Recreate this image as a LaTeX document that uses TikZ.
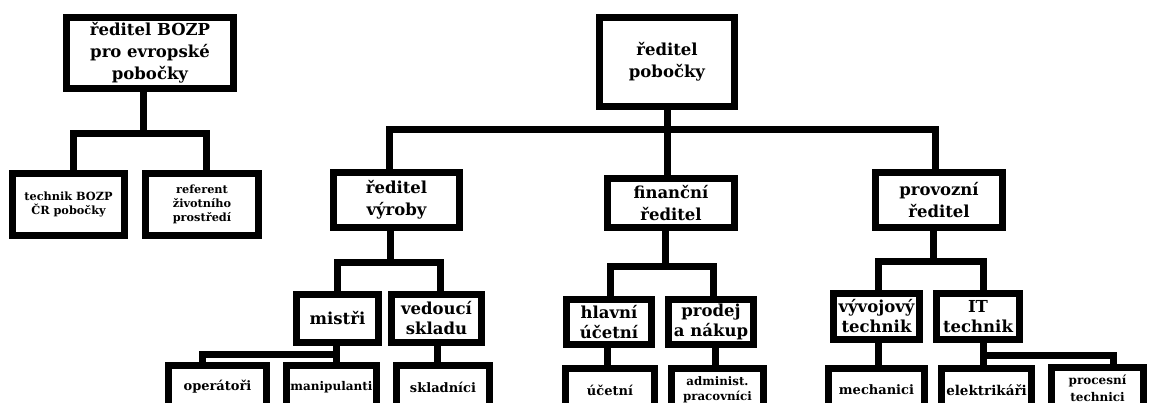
\documentclass[tikz,border=0pt]{standalone}
\usepackage{fontspec}
\setmainfont{DejaVu Serif}
\tikzset{
  box/.style={draw, line width=7pt, inner sep=0pt, align=center,
    font=\bfseries\fontsize{16.5}{22}\selectfont},
  boxmid/.style={font=\bfseries\fontsize{16.5}{20}\selectfont},
  boxsmall/.style={font=\bfseries\fontsize{13}{15}\selectfont},
  boxtiny/.style={font=\bfseries\fontsize{11.3}{14}\selectfont},
  link/.style={line width=7pt, line join=miter},
}
\begin{document}
\begin{tikzpicture}[x=1pt, y=-1pt]
  \path[use as bounding box] (0,0) rectangle (1151,403);
  \clip (0,0) rectangle (1151,403);

  % left branch
  \node[box, minimum width=167pt, minimum height=71pt] (bozp) at (150,53) {ředitel BOZP\\pro evropské\\pobočky};
  \node[box, boxtiny, minimum width=112pt, minimum height=62pt] (tech) at (68.5,204.5) {technik BOZP\\ČR pobočky};
  \node[box, boxtiny, minimum width=113pt, minimum height=62pt] (ref) at (202,204.5) {referent\\životního\\prostředí};

  % main branch
  \node[box, minimum width=135pt, minimum height=89pt] (pob) at (667,62) {ředitel\\pobočky};
  \node[box, minimum width=126pt, minimum height=55pt] (vyr) at (396.5,200) {ředitel\\výroby};
  \node[box, minimum width=127pt, minimum height=49pt] (fin) at (671,203) {finanční\\ředitel};
  \node[box, minimum width=127pt, minimum height=55pt] (prov) at (939,200) {provozní\\ředitel};

  \node[box, boxmid, minimum width=82pt, minimum height=48pt] (mis) at (337.5,318.5) {mistři};
  \node[box, boxmid, minimum width=90pt, minimum height=48pt] (ved) at (436.5,318.5) {vedoucí\\skladu};
  \node[box, boxmid, minimum width=85pt, minimum height=45pt] (hla) at (609,322) {hlavní\\účetní};
  \node[box, boxmid, minimum width=85pt, minimum height=45pt] (pro) at (711,322) {prodej\\a nákup};
  \node[box, boxmid, minimum width=86pt, minimum height=46pt] (vyv) at (876.5,316.5) {vývojový\\technik};
  \node[box, boxmid, minimum width=83pt, minimum height=46pt] (itt) at (978,316.5) {IT\\technik};

  % bottom row
  \node[box, boxsmall, minimum width=98pt, minimum height=43pt] (ope) at (217.5,387) {operátoři};
  \node[box, boxsmall, font=\bfseries\fontsize{12}{14}\selectfont, minimum width=90pt, minimum height=43pt] (man) at (331.5,387) {manipulanti};
  \node[box, boxsmall, minimum width=93pt, minimum height=43pt] (skl) at (443,387) {skladníci};
  \node[box, boxsmall, minimum width=89pt, minimum height=43pt] (uce) at (610,390) {účetní};
  \node[box, boxtiny, font=\bfseries\fontsize{11.8}{15}\selectfont, minimum width=92pt, minimum height=43pt] (adm) at (717.5,390) {administ.\\pracovníci};
  \node[box, boxsmall, minimum width=96pt, minimum height=43pt] (mec) at (876.5,390) {mechanici};
  \node[box, boxsmall, font=\bfseries\fontsize{13.5}{15}\selectfont, minimum width=90pt, minimum height=43pt] (ele) at (986.5,390) {elektrikáři};
  \node[box, boxtiny, font=\bfseries\fontsize{12}{17}\selectfont, minimum width=92pt, minimum height=43pt] (prc) at (1097.5,388.5) {procesní\\technici};

  % connectors, left branch
  \draw[link] ([xshift=4.5pt]tech.north) -- ++(0,-36) -| ([xshift=4pt]ref.north);
  \draw[link] ([xshift=-7pt]bozp.south) -- ++(0,42);

  % connectors, main branch
  \draw[link] ([xshift=-7.5pt]vyr.north) -- ++(0,-39) -| ([xshift=-4pt]prov.north);
  \draw[link] (pob.south) -- ([xshift=-4pt]fin.north);

  \draw[link] ([xshift=-6.5pt]vyr.south) -- ++(0,32);
  \draw[link] (mis.north) -- ++(0,-28) -| ([xshift=3.5pt]ved.north);
  \draw[link] ([xshift=-1pt]mis.south) -- ([xshift=5pt]man.north);
  \draw[link] ([xshift=-15pt]ope.north) -- ++(0,-7.5) -| ([xshift=-1pt]mis.south);
  \draw[link] ([xshift=0.5pt]ved.south) -- ([xshift=-6pt]skl.north);

  \draw[link] ([xshift=-6pt]fin.south) -- ++(0,36);
  \draw[link] ([xshift=1pt]hla.north) -- ++(0,-29) -| ([xshift=2pt]pro.north);
  \draw[link] ([xshift=-2pt]hla.south) -- ([xshift=-3pt]uce.north);
  \draw[link] ([xshift=4pt]pro.south) -- ([xshift=-2.5pt]adm.north);

  \draw[link] ([xshift=-6pt]prov.south) -- ++(0,31);
  \draw[link] ([xshift=1.5pt]vyv.north) -- ++(0,-28) -| ([xshift=5pt]itt.north);
  \draw[link] ([xshift=1.5pt]vyv.south) -- ([xshift=1.5pt]mec.north);
  \draw[link] ([xshift=5pt]itt.south) -- ([xshift=-3.5pt]ele.north);
  \draw[link] ([xshift=16pt]prc.north) -- ++(0,-8) -| ([xshift=5pt]itt.south);
\end{tikzpicture}
\end{document}
